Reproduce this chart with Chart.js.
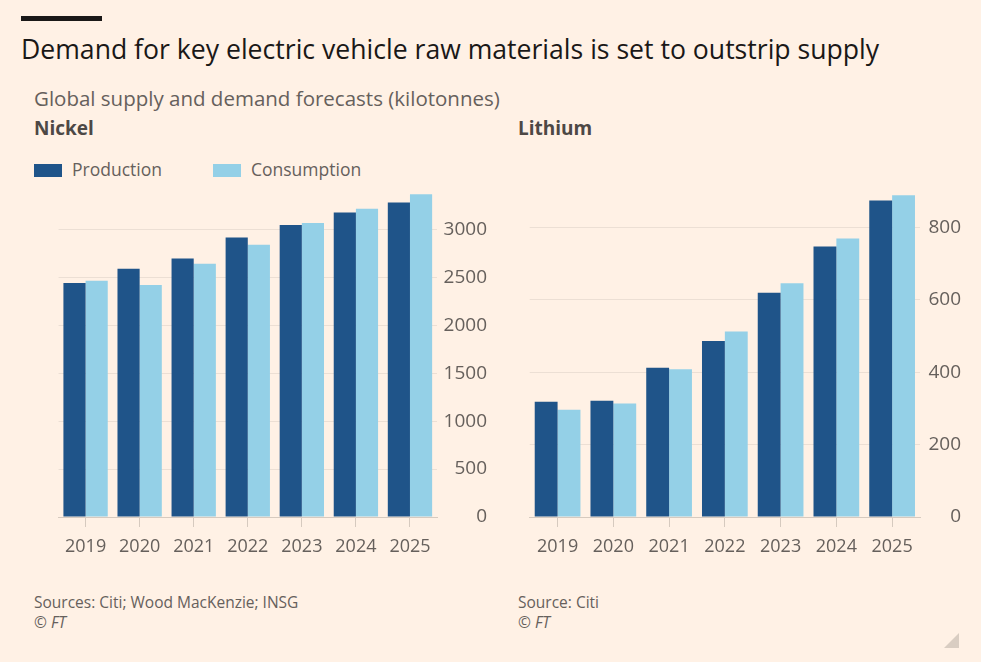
<!DOCTYPE html>
<html>
<head>
<meta charset="utf-8">
<script src="https://cdn.jsdelivr.net/npm/chart.js@4.4.1/dist/chart.umd.min.js"></script>
<style>
  body { margin: 0; background: #fff1e5; font-family: "Open Sans", sans-serif; }
  #page { position: relative; width: 981px; height: 662px; overflow: hidden; background: #fff1e5; }
  .abs { position: absolute; white-space: nowrap; }
  #bar { left: 21px; top: 16px; width: 81px; height: 5px; background: #1a1817; }
  #title { left: 21px; top: 31px; font-size: 26.6px; color: #1a1817; }
  #subtitle { left: 34px; top: 84px; font-size: 20.5px; color: #66605c; }
  .panel { top: 115px; font-size: 19px; font-weight: 700; color: #4d4845; }
  .leg { top: 157px; font-size: 17.5px; color: #66605c; }
  .sw { display: inline-block; width: 28px; height: 13px; vertical-align: -1px; margin-right: 10px; }
  .src { font-size: 15.5px; color: #66605c; line-height: 20px; }
  canvas { position: absolute; }
  #grip { right: 22px; top: 633px; width: 0; height: 0; border-left: 15px solid transparent; border-bottom: 15px solid #d9cdc2; }
</style>
</head>
<body>
<div id="page">
  <div id="bar" class="abs"></div>
  <div id="title" class="abs">Demand for key electric vehicle raw materials is set to outstrip supply</div>
  <div id="subtitle" class="abs">Global supply and demand forecasts (kilotonnes)</div>
  <div class="abs panel" style="left:34px">Nickel</div>
  <div class="abs panel" style="left:518px">Lithium</div>
  <div class="abs leg" style="left:34px"><span class="sw" style="background:#1f5489"></span>Production</div>
  <div class="abs leg" style="left:213px"><span class="sw" style="background:#94d0e7"></span>Consumption</div>

  <canvas id="nickel" width="431" height="392" style="left:56px; top:170px"></canvas>
  <canvas id="lithium" width="433" height="392" style="left:528px; top:170px"></canvas>

  <div class="abs src" style="left:34px; top:592px">Sources: Citi; Wood MacKenzie; INSG<br><i>© FT</i></div>
  <div class="abs src" style="left:518px; top:592px">Source: Citi<br><i>© FT</i></div>
  <div id="grip" class="abs"></div>
</div>

<script>
const years = ['2019', '2020', '2021', '2022', '2023', '2024', '2025'];

const nickelProduction = [2440, 2590, 2695, 2915, 3045, 3175, 3280];
const nickelConsumption = [2465, 2420, 2640, 2840, 3065, 3215, 3365];

const lithiumProduction = [318, 321, 412, 486, 619, 747, 874];
const lithiumConsumption = [296, 313, 408, 512, 645, 769, 888];

const nickelTicks = [0, 500, 1000, 1500, 2000, 2500, 3000];
const lithiumTicks = [0, 200, 400, 600, 800];

const darkBlue = '#1f5489';
const lightBlue = '#94d0e7';
const textGrey = '#66605c';

Chart.defaults.font.family = '"Open Sans", sans-serif';
Chart.defaults.color = textGrey;

// y labels sit right-aligned on the canvas edge (crossAlign far), so axisWidth sets where they end
function makeChart(id, production, consumption, max, tickValues, axisWidth) {
    return new Chart(document.getElementById(id), {
        type: 'bar',
        data: {
            labels: years,
            datasets: [{
                label: 'Production',
                data: production,
                backgroundColor: darkBlue,
                categoryPercentage: 0.82,
                barPercentage: 1
            }, {
                label: 'Consumption',
                data: consumption,
                backgroundColor: lightBlue,
                categoryPercentage: 0.82,
                barPercentage: 1
            }]
        },
        options: {
            responsive: false,
            animation: false,
            layout: { padding: { top: 21, left: 0, right: 0, bottom: 0 } },
            plugins: { legend: { display: false }, tooltip: { enabled: false } },
            scales: {
                x: {
                    grid: {
                        offset: false,
                        drawOnChartArea: false,
                        drawTicks: true,
                        tickLength: 10,
                        color: '#d6cabf'
                    },
                    border: { display: true, color: '#d6cabf', width: 1 },
                    ticks: { font: { size: 18 }, color: textGrey, padding: 9, maxRotation: 0 },
                    afterFit: (axis) => { axis.height = 45; }
                },
                y: {
                    position: 'right',
                    min: 0,
                    max: max,
                    afterBuildTicks: (axis) => {
                        axis.ticks = tickValues.map(v => ({ value: v }));
                    },
                    grid: {
                        drawTicks: false,
                        color: (ctx) => ctx.tick && ctx.tick.value === 0 ? '#d6cabf' : '#ecdfd4'
                    },
                    border: { display: false },
                    ticks: {
                        font: { size: 19 },
                        color: textGrey,
                        padding: 8,
                        crossAlign: 'far',
                        callback: (value) => String(value)
                    },
                    afterFit: (axis) => { axis.width = axisWidth; }
                }
            }
        }
    });
}

makeChart('nickel', nickelProduction, nickelConsumption, 3400, nickelTicks, 50);
makeChart('lithium', lithiumProduction, lithiumConsumption, 900, lithiumTicks, 41);
</script>
</body>
</html>
